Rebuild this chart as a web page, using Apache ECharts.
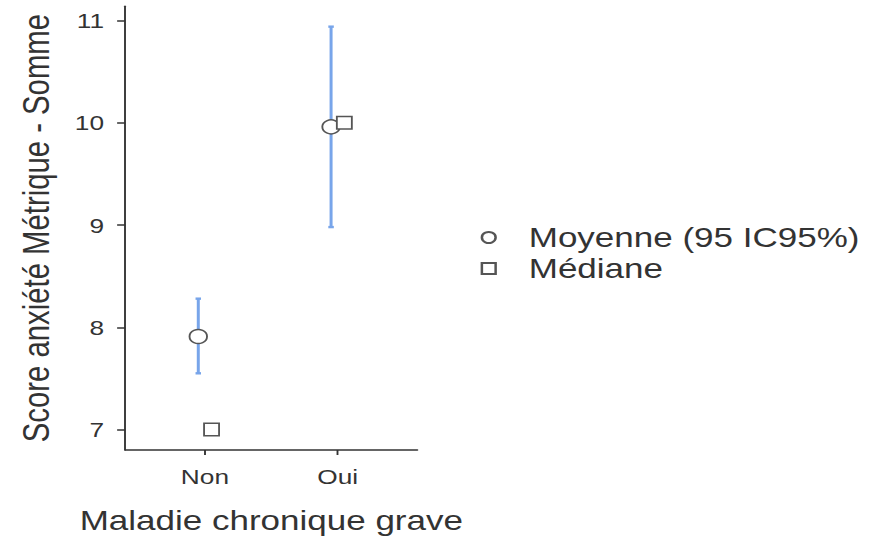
<!DOCTYPE html>
<html>
<head>
<meta charset="utf-8">
<script src="https://cdn.jsdelivr.net/npm/echarts@6/dist/echarts.min.js"></script>
<style>
html,body{margin:0;padding:0;background:#fff;overflow:hidden;}
#wrap{width:869px;height:539px;overflow:hidden;position:relative;}
#chart{width:695.2px;height:539px;transform:scaleX(1.25);transform-origin:0 0;}
</style>
</head>
<body>
<div id="wrap"><div id="chart"></div></div>
<script>
// ---- data ----
const categories = ['Non', 'Oui'];
const means = [7.91, 9.96];
const ciLower = [7.55, 8.98];
const ciUpper = [8.28, 10.94];
const medians = [7, 10];
const yTicks = [7, 8, 9, 10, 11];
const seriesNames = ['Moyenne (95 IC95%)', 'Médiane'];

// ---- chart ----
const FONT = '"Liberation Sans", Arial, sans-serif';
const TXT = '#333333';
const AX = '#333333';
const DODGE = 0.05;

const chart = echarts.init(document.getElementById('chart'), null, { renderer: 'svg' });

const errData = categories.map((c, i) => [i + 1 - DODGE, ciLower[i], ciUpper[i]]);
const meanData = categories.map((c, i) => [i + 1 - DODGE, means[i]]);
const medData = categories.map((c, i) => [i + 1 + DODGE, medians[i]]);

const option = {
  backgroundColor: '#ffffff',
  animation: false,
  textStyle: { fontFamily: FONT },
  grid: { left: 100.2, top: 6.2, width: 233.7, height: 446.1, containLabel: false },
  xAxis: {
    type: 'value',
    min: 0.4,
    max: 2.6,
    splitLine: { show: false },
    axisLine: { show: true, lineStyle: { color: AX, width: 1.5 } },
    axisTick: { show: true, customValues: [1, 2], length: 5, lineStyle: { color: AX, width: 1.5 } },
    axisLabel: {
      customValues: [1, 2],
      formatter: v => categories[Math.round(v) - 1] || '',
      fontSize: 21, color: TXT, margin: 16, fontFamily: FONT
    },
    name: 'Maladie chronique grave',
    nameLocation: 'middle',
    nameGap: 56,
    nameTextStyle: { fontSize: 28, color: TXT, fontFamily: FONT }
  },
  yAxis: {
    type: 'value',
    min: 6.8,
    max: 11.14,
    splitLine: { show: false },
    axisLine: { show: true, lineStyle: { color: AX, width: 1.5 } },
    axisTick: { show: true, customValues: yTicks, length: 6.5, lineStyle: { color: AX, width: 1.5 } },
    axisLabel: {
      customValues: yTicks,
      fontSize: 21, color: TXT, margin: 17, fontFamily: FONT
    },
    name: 'Score anxiété Métrique - Somme',
    nameLocation: 'middle',
    nameGap: 57,
    nameRotate: 90,
    nameTextStyle: { fontSize: 29.3, color: TXT, fontFamily: FONT }
  },
  legend: {
    orient: 'vertical',
    left: 379.5,
    top: 217,
    itemWidth: 54,
    itemHeight: 11,
    itemGap: 0,
    selectedMode: false,
    textStyle: { fontSize: 28, lineHeight: 31, color: TXT, fontFamily: FONT },
    data: [
      { name: seriesNames[0], icon: 'circle' },
      { name: seriesNames[1], icon: 'path://M0 0H10V10H0Z' }
    ]
  },
  series: [
    {
      type: 'custom',
      name: 'IC95',
      data: errData,
      encode: { x: 0, y: [1, 2] },
      z: 1,
      renderItem: function (params, api) {
        const x = api.value(0);
        const p1 = api.coord([x, api.value(1)]);
        const p2 = api.coord([x, api.value(2)]);
        const hw = 2.2;
        const st = { stroke: '#78a5ea', lineWidth: 2.4 };
        return {
          type: 'group',
          children: [
            { type: 'line', shape: { x1: p1[0], y1: p1[1], x2: p2[0], y2: p2[1] }, style: st },
            { type: 'line', shape: { x1: p1[0] - hw, y1: p1[1], x2: p1[0] + hw, y2: p1[1] }, style: st },
            { type: 'line', shape: { x1: p2[0] - hw, y1: p2[1], x2: p2[0] + hw, y2: p2[1] }, style: st }
          ]
        };
      }
    },
    {
      type: 'scatter',
      name: seriesNames[0],
      data: meanData,
      symbol: 'circle',
      symbolSize: 14,
      z: 3,
      itemStyle: { color: '#ffffff', borderColor: '#555555', borderWidth: 1.5, opacity: 1 }
    },
    {
      type: 'scatter',
      name: seriesNames[1],
      data: medData,
      symbol: 'rect',
      symbolSize: [12, 12.5],
      z: 3,
      itemStyle: { color: '#ffffff', borderColor: '#555555', borderWidth: 1.5, opacity: 1 }
    }
  ]
};
chart.setOption(option);
</script>
</body>
</html>
